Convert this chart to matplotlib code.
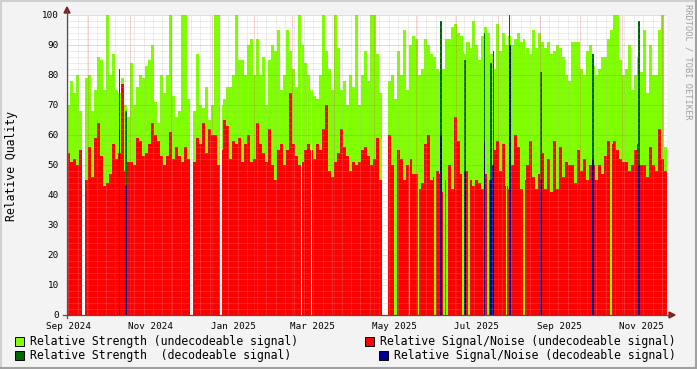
import numpy as np
import pandas as pd
import matplotlib
matplotlib.use("Agg")
import matplotlib.pyplot as plt
import matplotlib.dates as mdates
from matplotlib.patches import Rectangle

# --- data -------------------------------------------------------------
# one value per time bin (about 2.2 days), 0 = no data
bin_start = "2024-09-15 02:00"
bin_freq = "3208min"

strength = [
    70, 78, 74, 80, 68, 0, 79, 80, 68, 75,
    86, 85, 75, 100, 80, 87, 75, 74, 79, 70,
    66, 84, 70, 76, 80, 79, 83, 85, 90, 71,
    64, 80, 74, 80, 100, 73, 66, 68, 100, 100,
    72, 0, 68, 87, 70, 69, 76, 65, 70, 100,
    100, 70, 72, 76, 76, 80, 100, 85, 85, 80,
    90, 92, 80, 92, 80, 86, 70, 85, 90, 88,
    95, 75, 80, 95, 88, 82, 76, 100, 90, 84,
    80, 75, 73, 72, 80, 100, 88, 82, 75, 100,
    89, 75, 78, 70, 80, 76, 100, 70, 80, 88,
    78, 100, 100, 87, 74, 0, 0, 78, 80, 72,
    88, 80, 95, 75, 90, 93, 92, 80, 82, 92,
    90, 87, 86, 82, 81, 82, 92, 92, 96, 97,
    94, 93, 87, 91, 89, 98, 90, 85, 93, 96,
    94, 87, 82, 97, 88, 94, 90, 93, 90, 92,
    94, 91, 87, 89, 87, 95, 89, 94, 91, 89,
    91, 87, 88, 90, 89, 86, 80, 78, 91, 91,
    91, 82, 80, 88, 90, 83, 80, 82, 86, 86,
    92, 95, 100, 100, 85, 80, 82, 90, 75, 80,
    86, 81, 95, 74, 90, 80, 80, 95, 100, 56,
]

snr = [
    54, 51, 52, 50, 55, 0, 45, 56, 46, 59,
    64, 53, 43, 44, 47, 57, 52, 54, 77, 48,
    51, 51, 50, 59, 58, 53, 54, 57, 64, 60,
    58, 53, 50, 53, 61, 52, 56, 53, 51, 56,
    52, 0, 51, 59, 57, 64, 54, 62, 60, 60,
    50, 55, 65, 63, 52, 58, 57, 59, 51, 57,
    60, 51, 52, 64, 57, 54, 51, 62, 50, 45,
    55, 57, 50, 55, 74, 57, 53, 50, 51, 55,
    57, 55, 52, 57, 55, 62, 70, 48, 46, 51,
    54, 62, 56, 53, 48, 51, 50, 51, 55, 56,
    53, 50, 52, 59, 45, 0, 0, 60, 50, 0,
    55, 52, 45, 50, 52, 47, 47, 42, 44, 57,
    60, 45, 46, 48, 47, 41, 45, 50, 42, 66,
    58, 47, 44, 48, 45, 43, 45, 44, 42, 47,
    45, 49, 55, 58, 48, 57, 43, 42, 50, 60,
    56, 42, 45, 50, 58, 46, 42, 47, 54, 42,
    52, 41, 58, 42, 56, 46, 51, 50, 50, 44,
    55, 48, 52, 45, 50, 50, 45, 50, 47, 53,
    58, 57, 58, 55, 52, 51, 51, 48, 50, 55,
    57, 50, 50, 46, 56, 50, 48, 62, 52, 48,
]

# short periods with a decodeable signal
decode_dates = ["2024-10-24 02:00", "2024-10-28 21:00", "2025-06-19 19:00",
                "2025-07-07 14:00", "2025-07-22 02:00", "2025-07-26 22:00",
                "2025-07-28 14:00", "2025-08-09 19:00", "2025-09-02 00:00",
                "2025-10-10 14:00", "2025-11-13 19:00"]
decode_strength = [82, 68, 98, 85, 94, 84, 88, 100, 81, 87, 98]
decode_snr = [62, 43, 60, 48, 58, 45, 50, 90, 45, 52, 50]

# moments with strength but no signal/noise value
nosnr_dates = ["2025-05-27 17:00", "2025-06-03 00:00", "2025-06-15 07:00",
               "2025-06-22 00:00", "2025-06-24 05:00", "2025-07-06 02:00",
               "2025-07-10 14:00", "2025-07-24 17:00", "2025-08-07 10:00",
               "2025-08-20 10:00", "2025-10-24 00:00"]
nosnr_strength = [90, 80, 86, 82, 90, 88, 91, 93, 90, 92, 65]

# short holes in the data
gap_dates = ["2025-01-07 10:00", "2025-03-08 10:00", "2025-03-15 10:00"]

legend_labels = ["Relative Strength (undecodeable signal)",
                 "Relative Strength  (decodeable signal)",
                 "Relative Signal/Noise (undecodeable signal)",
                 "Relative Signal/Noise (decodeable signal)"]

C_STRENGTH = "#80FF00"
C_SNR = "#FF0000"
C_STRENGTH_DEC = "#006600"
C_SNR_DEC = "#000099"

# --- figure -----------------------------------------------------------
W, H = 697, 369
fig = plt.figure(figsize=(W / 100, H / 100), dpi=100, facecolor="#F3F3F3")
mono = "DejaVu Sans Mono"

def fx(x):
    return x / W

def fy(y):
    return 1 - y / H

ax = fig.add_axes([fx(67), fy(315), 600 / W, 300 / H])
ax.set_facecolor("white")

edges = mdates.date2num(pd.date_range(bin_start, periods=len(strength) + 1, freq=bin_freq))
ax.stairs(strength, edges, fill=True, color=C_STRENGTH, baseline=0, antialiased=False, zorder=1)
ax.stairs(snr, edges, fill=True, color=C_SNR, baseline=0, antialiased=False, zorder=1.1)

nx = mdates.date2num(pd.to_datetime(nosnr_dates))
ax.bar(nx, nosnr_strength, width=0.9, color=C_STRENGTH, linewidth=0, zorder=1.2)

dx = mdates.date2num(pd.to_datetime(decode_dates))
ax.bar(dx, decode_strength, width=1.0, color=C_STRENGTH_DEC, linewidth=0, zorder=1.3)
ax.bar(dx, decode_snr, width=1.3, color=C_SNR_DEC, linewidth=0, zorder=1.4)

for g in mdates.date2num(pd.to_datetime(gap_dates)):
    ax.axvspan(g - 0.5, g + 0.5, color="white", linewidth=0, zorder=2)

ax.set_xlim(edges[0], edges[-1])
ax.set_ylim(0, 100)

# grid, rrdtool style dotted lines
dot = (0, (1, 1))
for v in range(2, 100, 2):
    if v % 10:
        ax.axhline(v, color="#B0B0B0", alpha=0.45, lw=0.72, ls=dot, zorder=3)
for v in range(10, 101, 10):
    ax.axhline(v, color="#E05050", alpha=0.5, lw=0.72, ls=dot, zorder=3)
weeks = mdates.date2num(pd.date_range("2024-09-16", "2025-12-05", freq="W-MON"))
for w in weeks:
    ax.axvline(w, color="#B0B0B0", alpha=0.45, lw=0.72, ls=dot, zorder=3)
months = mdates.date2num(pd.date_range("2024-10-01", "2025-12-01", freq="MS"))
for m in months:
    ax.axvline(m, color="#E05050", alpha=0.5, lw=0.72, ls=dot, zorder=3)

for s in ax.spines.values():
    s.set_visible(False)

# y ticks
ax.set_yticks(range(0, 101, 10))
ax.set_yticklabels([str(v) for v in range(0, 101, 10)], fontsize=6.7, family=mono)
ax.tick_params(axis="y", length=0, pad=6)

# x labels centred in the middle of every other month
label_months = pd.date_range("2024-09-01", "2025-11-01", freq="2MS")
mid = [m + pd.Timedelta(days=m.days_in_month / 2) for m in label_months]
ax.set_xticks(mdates.date2num(mid))
ax.set_xticklabels([m.strftime("%b %Y") for m in label_months], fontsize=6.7, family=mono)
ax.tick_params(axis="x", length=0, pad=5)

# axis lines with arrows
axis_col = "#505050"
arrow_col = "#7F1F1F"
fig.add_artist(plt.Line2D([fx(67), fx(67)], [fy(318), fy(10)], color=axis_col, lw=0.9))
fig.add_artist(plt.Line2D([fx(63), fx(670)], [fy(315), fy(315)], color=axis_col, lw=0.9))
fig.add_artist(plt.Polygon([[fx(64), fy(13)], [fx(70), fy(13)], [fx(67), fy(7)]],
                           closed=True, color=arrow_col, transform=fig.transFigure))
fig.add_artist(plt.Polygon([[fx(669), fy(312)], [fx(669), fy(318)], [fx(675), fy(315)]],
                           closed=True, color=arrow_col, transform=fig.transFigure))

fig.text(fx(12), fy(166), "Relative Quality", rotation=90, ha="center", va="center",
         fontsize=8.3, family=mono)
fig.text(fx(688), fy(4), "RRDTOOL / TOBI OETIKER", rotation=270, ha="center", va="top",
         fontsize=6.2, family=mono, color="#A0A0A0")

# legend
leg = [(15, 341, C_STRENGTH, legend_labels[0]),
       (15, 355, C_STRENGTH_DEC, legend_labels[1]),
       (365, 341, C_SNR, legend_labels[2]),
       (379, 355, C_SNR_DEC, legend_labels[3])]
for x, y, c, t in leg:
    fig.add_artist(Rectangle((fx(x), fy(y + 4.5)), 9 / W, 9 / H, facecolor=c,
                             edgecolor="black", lw=0.7, transform=fig.transFigure))
    fig.text(fx(x + 15), fy(y), t, ha="left", va="center", fontsize=8.3, family=mono)

# rrdtool frame
fig.add_artist(plt.Line2D([0, 1], [fy(0.5), fy(0.5)], color="#D0D0D0", lw=1.5))
fig.add_artist(plt.Line2D([fx(0.5), fx(0.5)], [0, 1], color="#D0D0D0", lw=1.5))
fig.add_artist(plt.Line2D([0, 1], [fy(368), fy(368)], color="#A0A0A0", lw=1.5))
fig.add_artist(plt.Line2D([fx(696), fx(696)], [0, 1], color="#A0A0A0", lw=1.5))

fig.savefig("out.png", dpi=100, facecolor=fig.get_facecolor())
